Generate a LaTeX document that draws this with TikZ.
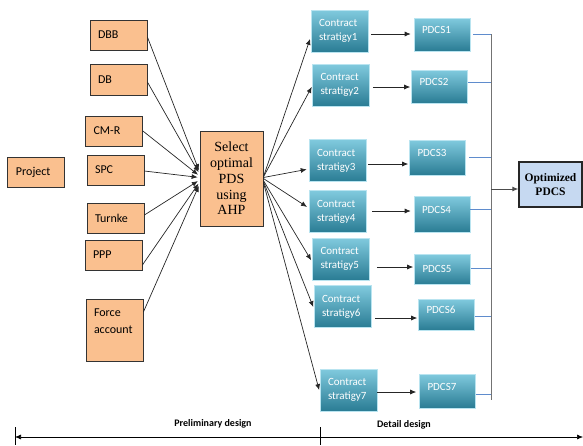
\documentclass[tikz,border=0pt]{standalone}
\usepackage{fontspec}
\setmainfont{Carlito}
\newfontfamily\tnr{Liberation Serif}
\usetikzlibrary{arrows.meta}
\definecolor{pdsorange}{RGB}{250,192,143}
\definecolor{tealtop}{RGB}{128,202,222}
\definecolor{tealbot}{RGB}{42,124,148}
\definecolor{tealline}{RGB}{185,228,240}
\definecolor{optblue}{RGB}{198,217,241}
\definecolor{tickblue}{RGB}{95,140,205}
\tikzset{
  pds/.style={draw=black!80, fill=pdsorange, line width=0.8pt, inner xsep=8pt, inner ysep=0pt,
    text width=41pt, align=left, minimum height=30pt, font=\fontsize{12}{17}\selectfont},
  cstrat/.style={draw=tealline, line width=0.6pt, top color=tealtop, bottom color=tealbot,
    text=white, inner xsep=8pt, inner ysep=0pt, text width=41pt, align=left,
    minimum height=42pt, font=\fontsize{11}{14}\selectfont},
  pdcs/.style={cstrat, text width=40pt, minimum height=33pt, text depth=9pt},
  arr/.style={-{Latex[length=6pt,width=5pt]}, line width=0.7pt, black!85},
  tick/.style={tickblue, line width=0.6pt}
}
\begin{document}
\begin{tikzpicture}[x=1pt, y=-1pt]
\useasboundingbox (0,0) rectangle (583,445);
% project delivery systems
\node[pds, text width=39pt, inner xsep=9pt] (proj) at (35.5,172) {Project};
\node[pds] (dbb) at (118.5,35) {DBB};
\node[pds, minimum height=31pt] (db) at (118.5,79.5) {DB};
\node[pds] (cmr) at (114,131) {CM-R};
\node[pds] (spc) at (115.5,170) {SPC};
\node[pds] (turn) at (115.5,218) {Turnke};
\node[pds] (ppp) at (113.5,255) {PPP};
\node[pds, minimum height=62pt] (force) at (114.5,330) {Force\\account\\\mbox{}};
\node[pds, text width=55pt, inner xsep=4pt, align=center, minimum height=95pt,
  font=\tnr\fontsize{14}{15.7}\selectfont] (sel) at (231.5,178.5) {Select\\optimal\\PDS\\using\\AHP};

\draw[arr, shorten >=2pt] ([yshift=-2pt]dbb.east) -- ([yshift=6.5pt]sel.west);
\draw[arr, shorten >=2pt] ([yshift=-2.5pt]db.east) -- ([yshift=4.5pt]sel.west);
\draw[arr, shorten >=2pt] (cmr.east) -- ([yshift=2.5pt]sel.west);
\draw[arr, shorten >=2pt] ([yshift=-1pt]spc.east) -- ([yshift=1pt]sel.west);
\draw[arr, shorten >=2pt] ([yshift=3pt]turn.east) -- ([yshift=-1.5pt]sel.west);
\draw[arr, shorten >=2pt] ([yshift=-10pt]ppp.east) -- ([yshift=-3.5pt]sel.west);
\draw[arr, shorten >=2pt] ([yshift=18pt]force.east) -- ([yshift=-5.5pt]sel.west);

% contract strategies
\node[cstrat] (cs1) at (339.5,31) {Contract\\stratigy1};
\node[cstrat] (cs2) at (341,85) {Contract\\stratigy2};
\node[cstrat] (cs3) at (337.5,160.5) {Contract\\stratigy3};
\node[cstrat] (cs4) at (337.5,211.5) {Contract\\stratigy4};
\node[cstrat] (cs5) at (341,259) {Contract\\stratigy5};
\node[cstrat] (cs6) at (342.5,306.5) {Contract\\stratigy6};
\node[cstrat] (cs7) at (348.5,390) {Contract\\stratigy7};

\draw[arr, shorten >=2pt] ([yshift=1.5pt]sel.east) -- ([yshift=-6pt]cs1.west);
\draw[arr, shorten >=1pt] ([yshift=1.5pt]sel.east) -- ([yshift=-1pt]cs2.west);
\draw[arr, shorten >=2pt] ([yshift=1pt]sel.east) -- ([yshift=-8.5pt]cs3.west);
\draw[arr, shorten >=2pt] ([yshift=0pt]sel.east) -- ([yshift=3.5pt]cs4.west);
\draw[arr, shorten >=2pt] ([yshift=-2pt]sel.east) -- ([yshift=-3pt]cs5.west);
\draw[arr, shorten >=1pt] ([yshift=-3pt]sel.east) -- ([yshift=-1.5pt]cs6.west);
\draw[arr, shorten >=2pt] ([yshift=-4pt]sel.east) -- ([yshift=-2pt]cs7.west);

% PDCS
\node[pdcs] (p1) at (442,34.5) {PDCS1};
\node[pdcs] (p2) at (439.5,86.5) {PDCS2};
\node[pdcs, minimum height=35pt] (p3) at (437.5,157.5) {PDCS3};
\node[pdcs, minimum height=36pt] (p4) at (442,214) {PDCS4};
\node[pdcs, minimum height=30pt, text depth=2pt] (p5) at (442.5,269.5) {PDCS5};
\node[pdcs, minimum height=31pt] (p6) at (446.5,314.5) {PDCS6};
\node[pdcs, minimum height=34pt] (p7) at (447.5,391) {PDCS7};

\draw[arr, shorten <=3pt, shorten >=3pt] ([yshift=-3pt]cs1.east) -- ([yshift=-3pt]cs1.east -| p1.west);
\draw[arr, shorten <=3pt, shorten >=1pt] ([yshift=-2pt]cs2.east) -- ([yshift=-2pt]cs2.east -| p2.west);
\draw[arr, shorten <=2pt, shorten >=1pt] ([yshift=-3.5pt]cs3.east) -- ([yshift=-3.5pt]cs3.east -| p3.west);
\draw[arr, shorten <=6pt, shorten >=3pt] ([yshift=0.5pt]cs4.east) -- ([yshift=0.5pt]cs4.east -| p4.west);
\draw[arr, shorten <=7pt, shorten >=1pt] ([yshift=-8pt]cs5.east) -- ([yshift=-8pt]cs5.east -| p5.west);
\draw[arr, shorten <=4pt, shorten >=1pt] ([yshift=-11.5pt]cs6.east) -- ([yshift=-11.5pt]cs6.east -| p6.west);
\draw[arr, shorten <=0pt, shorten >=3pt] ([yshift=-2pt]cs7.east) -- ([yshift=-2pt]cs7.east -| p7.west);

% collecting bar
\coordinate (bartop) at (491,34);
\coordinate (barbot) at (491,400);
\draw[black!55, line width=1pt] (bartop) -- (barbot);
\draw[tick] ([xshift=3pt]p1.east) -- (p1.east -| bartop);
\draw[tick] ([yshift=4.5pt]p2.east) -- ([yshift=4.5pt]p2.east -| bartop);
\draw[tick] ([xshift=3pt]p3.east) -- (p3.east -| bartop);
\draw[tick] ([yshift=5pt]p4.east) -- ([yshift=5pt]p4.east -| bartop);
\draw[tick] ([yshift=1.5pt]p5.east) -- ([yshift=1.5pt]p5.east -| bartop);
\draw[tick] ([yshift=-1.5pt]p6.east) -- ([yshift=-1.5pt]p6.east -| bartop);
\draw[tick] ([yshift=-3pt]p7.east) -- ([yshift=-3pt]p7.east -| bartop);

\node[draw=black!85, fill=optblue, line width=1.2pt, minimum width=63pt, minimum height=45pt,
  inner sep=0pt, align=center, font=\tnr\bfseries\fontsize{11.5}{14}\selectfont] (opt) at (550.5,184.5) {Optimized\\PDCS};
\coordinate (optin) at (491,189);
\draw[-{Latex[length=6pt,width=5pt]}, black!70, line width=1pt] (optin) -- (optin -| opt.west);

% design phases
\coordinate (axl) at (15,437);
\coordinate (axm) at (320,437);
\coordinate (axr) at (583,437);
\draw[{Latex[length=6pt,width=5pt]}-{Latex[length=6pt,width=5pt]}, line width=0.6pt] (axl) -- (axr);
\draw[line width=0.6pt] (15,427) -- (15,445);
\draw[line width=0.6pt] (320,427) -- (320,445);
\node[font=\bfseries\fontsize{10}{12}\selectfont] (prelim) at (213,424) {Preliminary design};
\node[font=\bfseries\fontsize{10}{12}\selectfont] (detail) at (404,425) {Detail design};
\end{tikzpicture}
\end{document}
